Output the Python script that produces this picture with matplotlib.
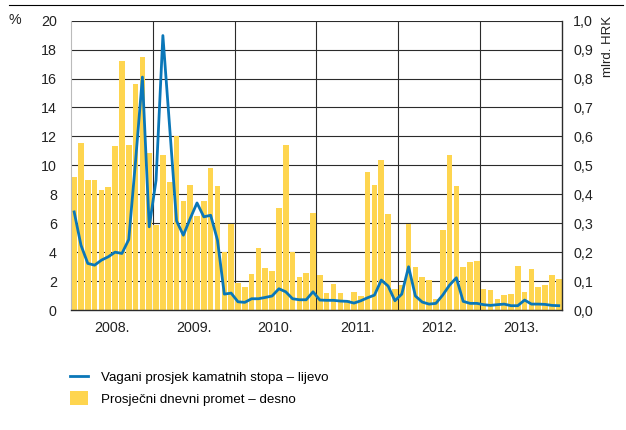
import numpy as np
import matplotlib
matplotlib.use('Agg')
import matplotlib.pyplot as plt
from matplotlib.lines import Line2D
from matplotlib.patches import Patch

plt.rcParams['font.family'] = ['Liberation Sans Narrow', 'Liberation Sans', 'DejaVu Sans']

YEARS = ['2008.', '2009.', '2010.', '2011.', '2012.', '2013.']

# prosječni dnevni promet, mlrd. HRK (desno), mjesečno od 1/2008 do 12/2013
promet = [
    0.46, 0.577, 0.45, 0.45, 0.414, 0.425, 0.567, 0.862, 0.57, 0.78, 0.873, 0.542,
    0.293, 0.534, 0.442, 0.603, 0.377, 0.432, 0.324, 0.377, 0.49, 0.43, 0.202, 0.299,
    0.094, 0.078, 0.126, 0.214, 0.146, 0.134, 0.351, 0.571, 0.201, 0.114, 0.129, 0.336,
    0.122, 0.059, 0.09, 0.059, 0.034, 0.064, 0.049, 0.478, 0.432, 0.518, 0.333, 0.072,
    0.086, 0.299, 0.147, 0.115, 0.103, 0.037, 0.276, 0.537, 0.428, 0.148, 0.166, 0.169,
    0.072, 0.068, 0.037, 0.052, 0.054, 0.151, 0.061, 0.142, 0.078, 0.086, 0.121, 0.106,
]

# vagani prosjek kamatnih stopa, % (lijevo)
kamata = [
    6.78, 4.48, 3.22, 3.10, 3.45, 3.68, 4.00, 3.91, 4.87, 10.3, 16.1, 5.75,
    8.97, 18.97, 12.6, 6.16, 5.17, 6.32, 7.40, 6.44, 6.55, 4.83, 1.10, 1.17,
    0.57, 0.53, 0.78, 0.78, 0.87, 0.97, 1.47, 1.26, 0.78, 0.71, 0.71, 1.26,
    0.69, 0.67, 0.67, 0.62, 0.60, 0.48, 0.64, 0.85, 1.03, 2.07, 1.66, 0.64,
    1.10, 2.99, 0.97, 0.55, 0.41, 0.46, 1.03, 1.72, 2.23, 0.60, 0.46, 0.46,
    0.37, 0.32, 0.37, 0.41, 0.30, 0.30, 0.69, 0.41, 0.41, 0.39, 0.32, 0.30,
]

BAR_COLOR = '#fed54f'
LINE_COLOR = '#0a77b8'
GRID_COLOR = '#2b2b2b'
TEXT_COLOR = '#222222'

x = np.arange(len(promet))

fig = plt.figure(figsize=(6.26, 4.30), dpi=100)
ax2 = fig.add_axes([0.113, 0.279, 0.785, 0.673])
ax = ax2.twinx()
ax.yaxis.tick_left()
ax.yaxis.set_label_position('left')
ax2.yaxis.tick_right()

ax2.bar(x, promet, width=0.82, color=BAR_COLOR, zorder=2)
ax2.set_ylim(0, 1.0)
ax2.set_yticks(np.arange(0, 1.01, 0.1))
ax2.set_yticklabels([f'{v:.1f}'.replace('.', ',') for v in np.arange(0, 1.01, 0.1)])
ax2.set_xlim(-0.5, len(promet) - 0.5)
ax2.set_axisbelow(True)
ax2.yaxis.grid(True, color=GRID_COLOR, linewidth=0.8)
for b in range(1, len(YEARS)):
    ax2.axvline(12 * b - 0.5, color=GRID_COLOR, linewidth=0.8, zorder=1)

ax.plot(x, kamata, color=LINE_COLOR, linewidth=2.0, zorder=5)
ax.set_ylim(0, 20)
ax.set_yticks(range(0, 21, 2))
ax.set_zorder(ax2.get_zorder() + 1)
ax.patch.set_visible(False)

ax2.set_xticks([12 * i + 5.5 for i in range(len(YEARS))])
ax2.set_xticklabels(YEARS)

for a in (ax, ax2):
    a.tick_params(length=0, labelsize=10.3, colors=TEXT_COLOR)
    for s in a.spines.values():
        s.set_visible(False)
ax2.tick_params(axis='y', pad=8)
ax.tick_params(axis='y', pad=10)
ax2.tick_params(axis='x', pad=8)

ax2.spines['right'].set_visible(True)
ax2.spines['right'].set_color(GRID_COLOR)
ax2.spines['right'].set_linewidth(1.0)
ax2.spines['bottom'].set_visible(True)
ax2.spines['bottom'].set_color(GRID_COLOR)
ax2.spines['bottom'].set_linewidth(1.0)
ax2.spines['left'].set_visible(True)
ax2.spines['left'].set_color('#bbbbbb')
ax2.spines['left'].set_linewidth(0.8)

fig.text(0.013, 0.953, '%', fontsize=10.3, va='center', ha='left', color=TEXT_COLOR)
fig.text(0.972, 0.962, 'mlrd. HRK', fontsize=9.5, rotation=90, va='top', ha='center', color=TEXT_COLOR)
fig.add_artist(Line2D([0.015, 0.995], [0.988, 0.988], color='black', linewidth=0.8))

handles = [Line2D([0], [0], color=LINE_COLOR, linewidth=2.0),
           Patch(facecolor=BAR_COLOR)]
labels = ['Vagani prosjek kamatnih stopa – lijevo', 'Prosječni dnevni promet – desno']
fig.legend(handles, labels, loc='upper left', bbox_to_anchor=(0.104, 0.152),
           frameon=False, fontsize=9.6, handlelength=1.35, handleheight=1.15,
           handletextpad=0.95, labelspacing=0.55, borderaxespad=0)

fig.savefig('out.png', dpi=100)
